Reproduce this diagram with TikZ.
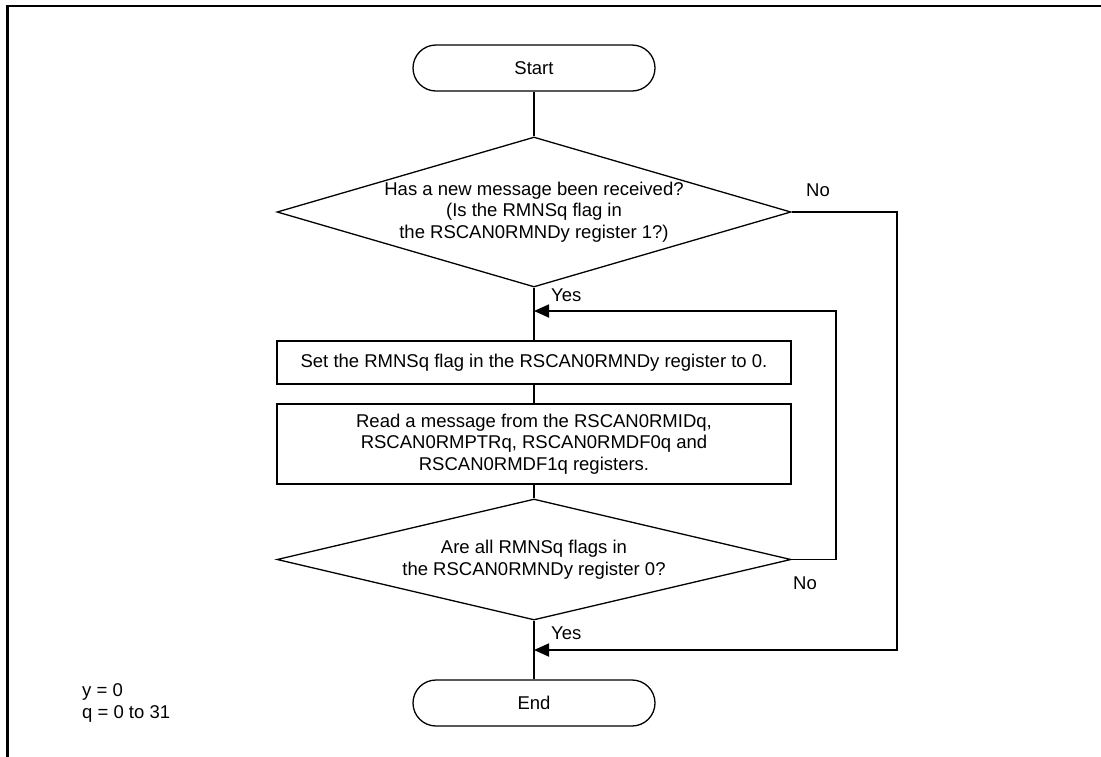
\documentclass[tikz,border=0pt]{standalone}
\usepackage{fontspec}
\setmainfont{Liberation Sans}
\usetikzlibrary{shapes.geometric,arrows.meta}
\begin{document}
\begin{tikzpicture}[x=1pt,y=-1pt,
  every node/.style={font=\fontsize{18.5}{21.5}\selectfont},
  term/.style={draw,line width=1.3pt,rounded corners=23pt,minimum width=242pt,minimum height=46pt,inner sep=0pt},
  proc/.style={draw,line width=1.3pt,minimum width=514pt,inner sep=0pt,align=center},
  dia/.style={draw,line width=1.3pt,diamond,inner sep=0pt,minimum width=514pt},
  txt/.style={inner sep=0pt,align=center},
  lbl/.style={inner sep=0pt},
  flow/.style={line width=1.3pt},
  back/.style={line width=1.8pt,-{Triangle[length=15pt,width=13pt]}}]
\useasboundingbox (0,0) rectangle (1101,756);
% frame
\draw[line width=2.5pt] (7.5,760) -- (7.5,6) -- (1105,6);
% nodes
\node[term] (start) at (534,68) {Start};
\node[dia,minimum height=150pt] (d1) at (534,212) {};
\node[txt] (d1t) at (d1.center) {Has a new message been received?\\(Is the RMNSq flag in\\the RSCAN0RMNDy register 1?)};
\node[proc,minimum height=43pt] (b1) at (534,362.5) {Set the RMNSq flag in the RSCAN0RMNDy register to 0.};
\node[proc,minimum height=80pt] (b2) at (534,444) {Read a message from the RSCAN0RMIDq,\\RSCAN0RMPTRq, RSCAN0RMDF0q and\\RSCAN0RMDF1q registers.};
\node[dia,minimum height=121pt] (d2) at (534,559.5) {};
\node[txt] (d2t) at (d2.center) {Are all RMNSq flags in\\the RSCAN0RMNDy register 0?};
\node[term] (end) at (534,703) {End};
% labels
\node[lbl] (no1) at (818,190) {No};
\node[lbl,anchor=west] (yes1) at (551,295) {Yes};
\node[lbl] (no2) at (805,583) {No};
\node[lbl,anchor=west] (yes2) at (551,633) {Yes};
\node[lbl,anchor=west,align=left] (note) at (82,703) {y = 0\\q = 0 to 31};
% junctions
\coordinate (j1) at (534,311);
\coordinate (j2) at (534,650);
% main flow
\draw[flow] (start.south) -- (d1.north);
\draw[flow] (d1.south) -- (b1.north);
\draw[flow] (b1.south) -- (b2.north);
\draw[flow] (b2.south) -- (d2.north);
\draw[flow] (d2.south) -- (end.north);
% branches
\draw[back] (d1.east) -- (897,212) |- (j2);
\draw[back] (d2.east) -- (836,559.5) |- (j1);
\end{tikzpicture}
\end{document}
